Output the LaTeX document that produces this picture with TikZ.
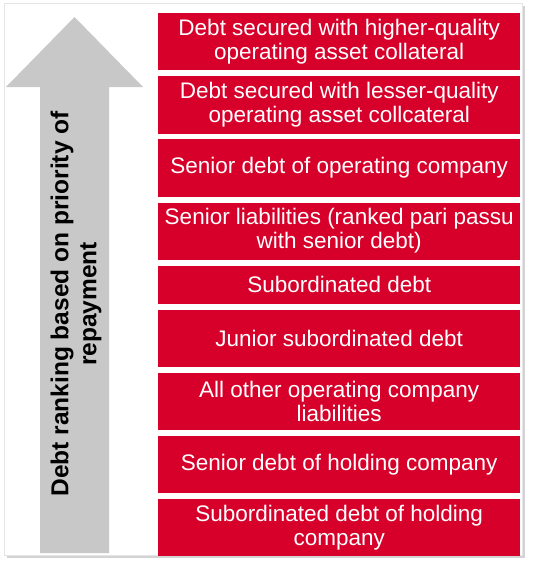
\documentclass[tikz,border=0pt]{standalone}
\usepackage{fontspec}
\setmainfont{Liberation Sans}
\usetikzlibrary{positioning,shadows}
\definecolor{rankred}{RGB}{214,0,42}
\definecolor{arrowgray}{RGB}{200,200,200}

\begin{document}
\begin{tikzpicture}[
  x=1pt,y=-1pt,
  node distance=5.5pt,
  tier/.style={fill=rankred,text=white,minimum width=362pt,minimum height=57.2pt,inner sep=0pt,align=center,font=\fontsize{22.5}{24}\selectfont},
  thin tier/.style={tier,minimum height=38pt},
  lbl/.style={rotate=90,align=center,font=\bfseries\fontsize{24.5}{28}\selectfont}
]
\useasboundingbox (0,0) rectangle (535,568);
% panel and priority arrow
\fill[white,draw=black!10,drop shadow={shadow xshift=2.5pt,shadow yshift=-2.5pt,opacity=0.35}] (4,3) rectangle (522,555);
\fill[arrowgray] (40,553) -- (40,87) -- (6,87) -- (74.5,17) -- (143,87) -- (109,87) -- (109,553) -- cycle;
\node[lbl] (rank) at (76,304) {Debt ranking based on priority of\\repayment};

% ranked tiers, highest priority first
\node[tier,anchor=north west] (secHigh) at (158,13) {Debt secured with higher-quality\\operating asset collateral};
\node[tier,below=of secHigh] (secLow) {Debt secured with lesser-quality\\operating asset collcateral};
\node[tier,below=of secLow] (senOp) {Senior debt of operating company};
\node[tier,below=of senOp] (senLiab) {Senior liabilities (ranked pari passu\\with senior debt)};
\node[thin tier,below=of senLiab] (sub) {Subordinated debt};
\node[tier,below=of sub] (junSub) {Junior subordinated debt};
\node[tier,below=of junSub] (otherLiab) {All other operating company\\liabilities};
\node[tier,below=of otherLiab] (senHold) {Senior debt of holding company};
\node[tier,below=of senHold] (subHold) {Subordinated debt of holding\\company};
\end{tikzpicture}
\end{document}
